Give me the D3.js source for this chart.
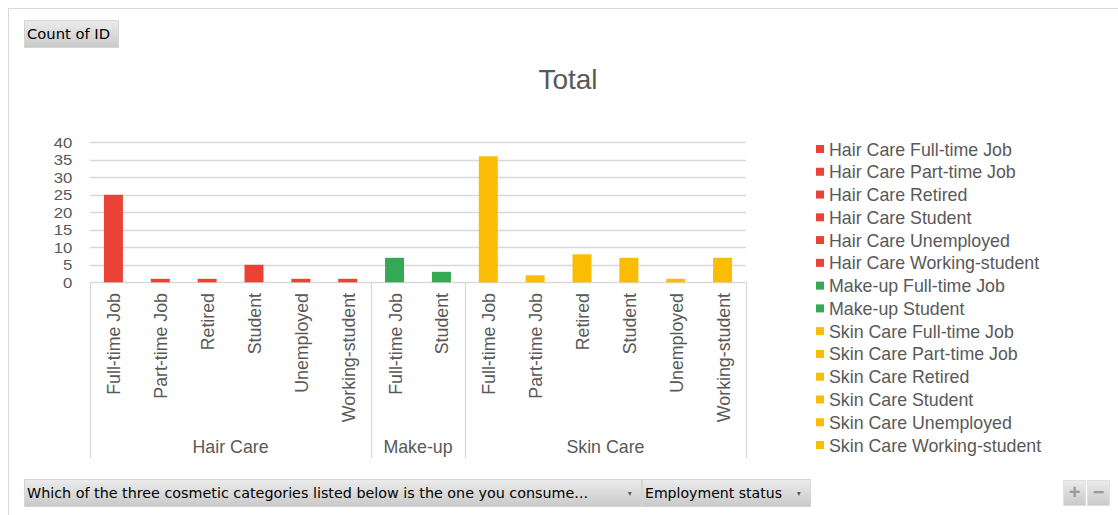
<!DOCTYPE html>
<html>
<head>
<meta charset="utf-8">
<script src="https://cdn.jsdelivr.net/npm/d3@7"></script>
<style>
  html, body { margin: 0; padding: 0; background: #fff; }
  svg { display: block; }
</style>
</head>
<body>
<svg id="chart" width="1118" height="515"></svg>
<script>
// Pivot data: count of respondents by cosmetic category and employment status
const groups = ["Hair Care", "Make-up", "Skin Care"];
const groupOf = ["Hair Care", "Hair Care", "Hair Care", "Hair Care", "Hair Care", "Hair Care",
                 "Make-up", "Make-up",
                 "Skin Care", "Skin Care", "Skin Care", "Skin Care", "Skin Care", "Skin Care"];
const statuses = ["Full-time Job", "Part-time Job", "Retired", "Student", "Unemployed", "Working-student",
                  "Full-time Job", "Student",
                  "Full-time Job", "Part-time Job", "Retired", "Student", "Unemployed", "Working-student"];
const counts = [25, 1, 1, 5, 1, 1,
                7, 3,
                36, 2, 8, 7, 1, 7];
const yTicks = [0, 5, 10, 15, 20, 25, 30, 35, 40];
const groupColors = ["#EA4335", "#34A853", "#FBBC04"];

const rows = counts.map((v, i) => ({ key: i, group: groupOf[i], status: statuses[i], value: v }));

const svg = d3.select("#chart");
const textColor = "#595959";
const gridColor = "#d9d9d9";
const font = "'Liberation Sans', Arial, sans-serif";
const uiFont = "'DejaVu Sans Condensed', 'DejaVu Sans', sans-serif";
const labelSize = 17.8;

const color = d3.scaleOrdinal().domain(groups).range(groupColors);

// outer frame
svg.append("rect").attr("x", 8.5).attr("y", 8.5).attr("width", 1120).attr("height", 520)
  .attr("fill", "none").attr("stroke", "#d9d9d9");

// defs: button gradient
const defs = svg.append("defs");
const grad = defs.append("linearGradient").attr("id", "btn").attr("x1", 0).attr("y1", 0).attr("x2", 0).attr("y2", 1);
grad.append("stop").attr("offset", "0%").attr("stop-color", "#ececec");
grad.append("stop").attr("offset", "100%").attr("stop-color", "#c9c9c9");

function button(x, y, w, h, label, arrow, fs, tl) {
  const g = svg.append("g");
  g.append("rect").attr("x", x + 0.5).attr("y", y + 0.5).attr("width", w).attr("height", h)
    .attr("fill", "url(#btn)").attr("stroke", "#d4d4d4");
  const t = g.append("text").attr("x", x + 3).attr("y", y + h / 2 + 5)
    .attr("font-family", uiFont).attr("font-size", fs).attr("fill", "#000").text(label);
  if (tl) t.attr("textLength", tl).attr("lengthAdjust", "spacingAndGlyphs");
  if (arrow) {
    g.append("text").attr("x", x + w - 13).attr("y", y + h / 2 + 3)
      .attr("font-family", uiFont).attr("font-size", 8).attr("fill", "#555").text("▾");
  }
  return g;
}

button(24, 20, 94, 27, "Count of ID", false, 14, 83);
button(24, 479, 617, 27, "Which of the three cosmetic categories listed below is the one you consume...", true, 14, 561);
button(642, 479, 168, 27, "Employment status", true, 14, 137);

// zoom +/- buttons
[["+", 1063], ["−", 1087]].forEach(([s, x]) => {
  svg.append("rect").attr("x", x + 0.5).attr("y", 480.5).attr("width", 22).attr("height", 25)
    .attr("fill", "url(#btn)").attr("stroke", "#e0e0e0");
  svg.append("text").attr("x", x + 11.5).attr("y", 499).attr("text-anchor", "middle")
    .attr("font-family", font).attr("font-size", 20).attr("font-weight", "bold")
    .attr("fill", "#9a9a9a").text(s);
});

// title
svg.append("text").attr("x", 568).attr("y", 89).attr("text-anchor", "middle")
  .attr("font-family", font).attr("font-size", 28).attr("fill", textColor).text("Total");

// scales
const plotLeft = 90, plotRight = 746, plotTop = 142.3, plotBottom = 282.3;
const x = d3.scaleBand().domain(rows.map(d => d.key)).range([plotLeft, plotRight])
  .paddingInner(0.595).paddingOuter(0.2975);
const y = d3.scaleLinear().domain([0, 40]).range([plotBottom, plotTop]);

// gridlines
svg.append("g").selectAll("line").data(yTicks).join("line")
  .attr("x1", plotLeft).attr("x2", plotRight)
  .attr("y1", d => Math.round(y(d)) + 0.5).attr("y2", d => Math.round(y(d)) + 0.5)
  .attr("stroke", gridColor).attr("stroke-width", 1.3);

// y axis labels
const yAxis = svg.append("g").attr("transform", `translate(${plotLeft},0)`)
  .call(d3.axisLeft(y).tickValues(yTicks).tickSize(0).tickPadding(16));
yAxis.select(".domain").remove();
yAxis.selectAll("text").attr("font-family", font).attr("font-size", 15.2).attr("fill", textColor)
  .attr("transform", "scale(1.1,1)");

// bars
svg.append("g").selectAll("rect").data(rows).join("rect")
  .attr("x", d => x(d.key)).attr("width", x.bandwidth())
  .attr("y", d => y(d.value)).attr("height", d => y(0) - y(d.value))
  .attr("fill", d => color(d.group));

// category labels (rotated)
svg.append("g").selectAll("text").data(rows).join("text")
  .attr("transform", d => `translate(${x(d.key) + x.bandwidth() / 2 + 7},293) rotate(-90)`)
  .attr("text-anchor", "end")
  .attr("font-family", font).attr("font-size", labelSize).attr("fill", textColor)
  .text(d => d.status);

// group separators and labels
const step = x.step();
const bounds = [];
let start = 0;
groups.forEach(g => {
  const n = groupOf.filter(v => v === g).length;
  bounds.push({ g, x0: plotLeft + start * step, x1: plotLeft + (start + n) * step });
  start += n;
});
const sepXs = [plotLeft, ...bounds.map(b => b.x1)];
svg.append("g").selectAll("line").data(sepXs).join("line")
  .attr("x1", d => Math.round(d) + 0.5).attr("x2", d => Math.round(d) + 0.5)
  .attr("y1", plotBottom).attr("y2", 458)
  .attr("stroke", gridColor).attr("stroke-width", 1.3);
svg.append("g").selectAll("text").data(bounds).join("text")
  .attr("x", d => (d.x0 + d.x1) / 2).attr("y", 453).attr("text-anchor", "middle")
  .attr("font-family", font).attr("font-size", labelSize).attr("fill", textColor)
  .text(d => d.g);

// legend
const legend = svg.append("g").selectAll("g").data(rows).join("g")
  .attr("transform", (d, i) => `translate(816,${149 + i * 22.77})`);
legend.append("rect").attr("x", 0).attr("y", -4).attr("width", 8).attr("height", 8)
  .attr("fill", d => color(d.group));
legend.append("text").attr("x", 13).attr("y", 6.5)
  .attr("font-family", font).attr("font-size", labelSize).attr("fill", textColor)
  .text(d => `${d.group} ${d.status}`);
</script>
</body>
</html>
